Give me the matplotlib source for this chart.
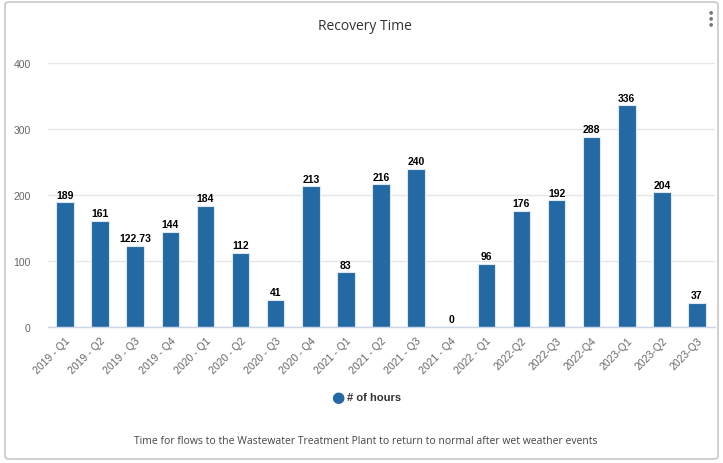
import matplotlib
matplotlib.use("Agg")
import matplotlib.pyplot as plt
from matplotlib.patches import FancyBboxPatch

categories = ["2019 - Q1", "2019 - Q2", "2019 - Q3", "2019 - Q4",
              "2020 - Q1", "2020 - Q2", "2020 - Q3", "2020 - Q4",
              "2021 - Q1", "2021 - Q2", "2021 - Q3", "2021 - Q4",
              "2022 - Q1", "2022-Q2", "2022-Q3", "2022-Q4",
              "2023-Q1", "2023-Q2", "2023-Q3"]
values = [189, 161, 122.73, 144, 184, 112, 41, 213, 83, 216, 240, 0,
          96, 176, 192, 288, 336, 204, 37]
labels = ["189", "161", "122.73", "144", "184", "112", "41", "213", "83",
          "216", "240", "0", "96", "176", "192", "288", "336", "204", "37"]
yticks = [0, 100, 200, 300, 400]
series_name = "# of hours"
title = "Recovery Time"
subtitle = "Time for flows to the Wastewater Treatment Plant to return to normal after wet weather events"

W, H = 723, 464
fig = plt.figure(figsize=(W / 100, H / 100), dpi=100)
fig.patch.set_facecolor("white")

# card border
card = FancyBboxPatch((5 / W, 4 / H), 713 / W, 457 / H,
                      boxstyle="round,pad=0,rounding_size=0.006",
                      transform=fig.transFigure, facecolor="none",
                      edgecolor="#c8c8c8", linewidth=1.2, zorder=-1)
fig.patches.append(card)

left, right = 47.5, 714.5
y0, y400 = 328, 64
ax = fig.add_axes([left / W, (H - y0) / H, (right - left) / W, (y0 - y400) / H])
ax.set_facecolor("none")

bar_color = "#2369a4"
x = list(range(len(categories)))
ax.bar(x, values, width=0.5, color=bar_color, edgecolor="#dfe8f2",
       linewidth=0.8, zorder=3)
for xi, v, lab in zip(x, values, labels):
    ax.text(xi, v + 4, lab, ha="center", va="bottom", fontsize=7.5,
            fontweight="bold", color="black", family="Liberation Sans", zorder=4)

ax.set_xlim(-0.5, len(categories) - 0.5)
ax.set_ylim(0, 400)
ax.set_yticks(yticks)
ax.set_yticklabels([str(t) for t in yticks], color="#666666", fontsize=7.5,
                   family="Liberation Sans")
ax.tick_params(axis="y", length=0, pad=12)
ax.grid(axis="y", color="#e6e6e6", linewidth=1, zorder=0)
ax.set_xticks(x)
ax.set_xticklabels(categories, rotation=45, ha="right", rotation_mode="anchor",
                   color="#666666", fontsize=7.5, family="Liberation Sans")
ax.tick_params(axis="x", length=0, pad=6)
for s in ["top", "right", "left"]:
    ax.spines[s].set_visible(False)
ax.spines["bottom"].set_color("#ccd6eb")
ax.spines["bottom"].set_linewidth(1)
ax.spines["bottom"].set_zorder(5)

fig.text(365 / W, 1 - 27 / H, title, ha="center", va="center", fontsize=10,
         color="#333333", family="Open Sans")

# legend
fig.text(338 / W, 1 - 398 / H, "\u25cf", ha="center", va="center", fontsize=11,
         color=bar_color, family="DejaVu Sans")
fig.text(347 / W, 1 - 398 / H, series_name, ha="left", va="center", fontsize=8,
         fontweight="bold", color="#333333", family="Liberation Sans")

fig.text(366 / W, 1 - 442 / H, subtitle, ha="center", va="center", fontsize=7.5,
         color="#444444", family="Open Sans")

# menu dots
for yy in (12, 18, 24):
    fig.text(711 / W, 1 - yy / H, "\u25cf", ha="center", va="center",
             fontsize=3.5, color="#777777", family="DejaVu Sans")

fig.savefig("out.png", dpi=100, facecolor="white")
